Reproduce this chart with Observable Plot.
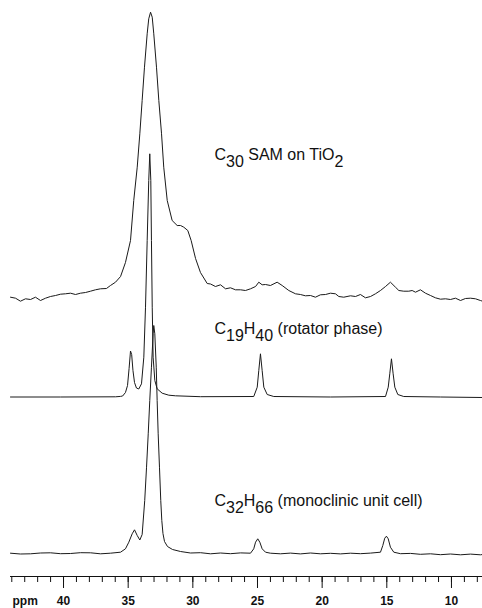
<!DOCTYPE html>
<html><head><meta charset="utf-8">
<script src="https://cdn.jsdelivr.net/npm/d3@7"></script>
<script src="https://cdn.jsdelivr.net/npm/@observablehq/plot@0.6"></script>
<style>
html,body{margin:0;padding:0;background:#fff;}
#chart svg{display:block;}
</style></head><body><div id="chart"></div>
<script>
// Trace 1: C30 SAM on TiO2 (chemical shift in ppm, intensity above its own baseline)
const samPpm = [44.10,43.71,43.33,42.94,42.55,42.17,41.78,41.39,41.01,40.62,
  40.23,39.85,39.46,39.07,38.69,38.30,37.91,37.53,37.14,36.68,
  36.37,35.98,35.59,35.21,34.82,34.57,34.30,34.10,33.92,33.74,
  33.53,33.41,33.27,33.14,33.02,32.81,32.63,32.42,32.25,31.98,
  31.60,31.21,30.95,30.70,30.39,30.13,29.79,29.41,28.89,28.63,
  28.25,27.86,27.47,27.09,26.70,26.31,25.93,25.54,25.15,24.90,
  24.64,24.38,24.00,23.48,23.09,22.58,22.06,21.68,21.29,20.90,
  20.52,20.13,19.74,19.36,18.97,18.71,18.33,17.81,17.42,17.04,
  16.65,16.26,15.88,15.49,15.10,14.72,14.33,14.07,13.69,13.30,
  13.04,12.78,12.40,12.01,11.62,11.24,10.85,10.46,10.08,9.69,
  9.30,8.92,8.53,8.14,7.76,7.60];
const samInt = [0.3,-0.7,-3.7,-1.3,-2.0,0.3,-3.0,-0.7,1.0,2.0,
  3.3,3.7,4.3,3.0,4.3,5.0,6.3,7.7,8.7,9.0,
  12,15.3,21,35,57,97,130.3,163.7,197,230.3,
  263.7,278.7,285.3,280.3,263.7,230.3,197,163.7,130.3,97,
  77,72,72,70.3,67,57,39,25,14,13.5,
  11,12.7,8.7,9.7,7.7,7.7,7,8.7,11,15.3,
  12.7,13,12,15.3,12,7,3.7,3,1.7,2,
  0.3,2.7,3,4.3,3.7,1,0.3,1.7,1,3,
  -0.3,1,3.7,7,11,15.3,10.3,7,6.3,6.3,
  7,5.3,7.7,4.3,2,-0.3,-1.7,-1.3,-2,-0.7,
  -3,-1,-0.7,-1.3,-3,-3.7];

// Trace 2: C19H40 (rotator phase)
const rotPpm = [44.10,40.23,35.98,35.59,35.43,35.21,35.05,34.93,34.82,34.73,
  34.63,34.51,34.36,34.18,33.97,33.79,33.66,33.53,33.41,33.33,
  33.25,33.20,33.14,33.07,32.94,32.76,32.37,31.86,31.34,29.41,
  25.29,25.02,24.90,24.77,24.64,24.51,24.25,23.74,19.36,15.10,
  14.89,14.77,14.64,14.51,14.38,14.15,13.69,10.85,7.60];
const rotInt = [0,0,0.2,0.6,1,4.5,11.5,28.5,46,42.5,
  26.5,14.5,9,8,13.2,39.8,89.8,156.5,216.5,243.2,
  216.5,156.5,89.8,39.8,16.5,8.2,3.8,1.8,1.2,0.3,
  0.5,9.8,26.5,43.2,26.5,9.8,2.5,0.5,0,0.5,
  9.8,23.2,38.2,23.2,9.8,2.5,0.5,0,-0.5];

// Trace 3: C32H66 (monoclinic unit cell)
const monoPpm = [44.10,43.33,42.55,41.78,41.01,40.23,39.46,38.69,37.91,37.14,
  36.37,35.59,35.21,34.95,34.69,34.51,34.30,34.10,33.92,33.72,
  33.58,33.45,33.33,33.20,33.07,33.02,32.94,32.83,32.76,32.68,
  32.58,32.48,32.40,32.31,32.19,31.96,31.57,30.95,30.18,29.41,
  28.63,27.86,27.09,26.31,25.54,25.29,25.15,24.98,24.82,24.64,
  24.38,24.00,23.22,22.45,21.68,20.90,20.13,19.36,18.58,17.81,
  17.04,16.26,15.49,15.31,15.16,15.03,14.89,14.72,14.46,13.94,
  13.17,12.40,11.62,10.85,10.08,9.30,8.53,7.76,7.60];
const monoInt = [0.3,-0.5,-0.3,0.5,0.7,-0.2,0,0.8,0.7,-0.3,
  0.3,1.3,4.7,11.3,19.7,23.7,18,13.5,19,53,
  86.3,119.7,153,186.3,219.7,228,219.7,186.3,153,119.7,
  86.3,53,33,20,12,7,4,2,0.5,0.8,
  -0.3,0.5,-0.2,0.6,0.3,4.7,11.3,14.7,11.3,4.7,
  1.3,0.3,-0.3,0.4,-0.4,0.5,-0.3,0.2,-0.4,0.3,
  -0.2,0.4,1.3,8,15.3,17.3,14.7,6.3,1.3,-0.2,
  0.1,-0.8,-0.3,-1.2,-0.5,-1.3,-0.6,-1.3,-1];

// Stacking: baseline level of each trace (intensity units) and label annotations
const traceNames = ["sam", "rot", "mono"];
const traceBaselines = [279, 179.5, 23];
const labelText = ["C_{30} SAM on TiO_{2}", "C_{19}H_{40} (rotator phase)", "C_{32}H_{66} (monoclinic unit cell)"];
const labelPpm = [28.33, 28.33, 28.33];
const labelHeight = [137.5, 63, 47.5];

// Axis ticks
const majorTicks = [40, 35, 30, 25, 20, 15, 10];
const minorTicks = d3.range(8, 45);
const xDomain = [44.1, 7.6];

const series = [[samPpm, samInt], [rotPpm, rotInt], [monoPpm, monoInt]];
const rows = [];
series.forEach(([p, v], i) => {
  p.forEach((ppm, j) => rows.push({trace: traceNames[i], ppm, y: traceBaselines[i] + v[j]}));
});
const labels = labelText.map((t, i) => ({text: t, ppm: labelPpm[i], y: traceBaselines[i] + labelHeight[i]}));

const plot = Plot.plot({
  width: 482, height: 608,
  marginLeft: 10, marginRight: 0, marginTop: 0, marginBottom: 32,
  style: {background: "#fff", fontFamily: "'Liberation Sans', Arial, Helvetica, sans-serif", color: "#111"},
  x: {domain: xDomain},
  y: {domain: [0, 576], axis: null},
  marks: [
    Plot.ruleY([0], {stroke: "#111", strokeWidth: 1}),
    Plot.axisX(minorTicks, {tickSize: 6, tickFormat: () => "", label: null, stroke: "#111"}),
    Plot.axisX(majorTicks, {tickSize: 12, tickPadding: 8, fontSize: 12, fontWeight: "bold", label: null, tickFormat: d => String(d), stroke: "#111"}),
    Plot.text(["ppm"], {x: () => xDomain[0], y: () => 0, text: d => d, dx: 2, dy: 20, lineAnchor: "top", textAnchor: "start", fontWeight: "bold", fontSize: 12, fill: "#111"}),
    Plot.line(rows, {x: "ppm", y: "y", z: "trace", stroke: "#1a1a1a", strokeWidth: 1}),
    Plot.text(labels, {x: "ppm", y: "y", text: "text", textAnchor: "start", lineAnchor: "bottom", fontSize: 16, fill: "#111"})
  ]
});

// Convert _{..} markup into subscript tspans
d3.select(plot).selectAll("text").each(function() {
  const t = this.textContent;
  if (!t.includes("_{")) return;
  const el = d3.select(this);
  el.text(null);
  const parts = t.split(/(_\{[^}]*\})/).filter(s => s.length);
  let shifted = false;
  for (const p of parts) {
    const m = p.match(/^_\{(.*)\}$/);
    if (m) {
      el.append("tspan").attr("dy", shifted ? 0 : 7).text(m[1]);
      shifted = true;
    } else {
      el.append("tspan").attr("dy", shifted ? -7 : 0).text(p);
      shifted = false;
    }
  }
});

document.getElementById("chart").appendChild(plot);
</script>
</body></html>
